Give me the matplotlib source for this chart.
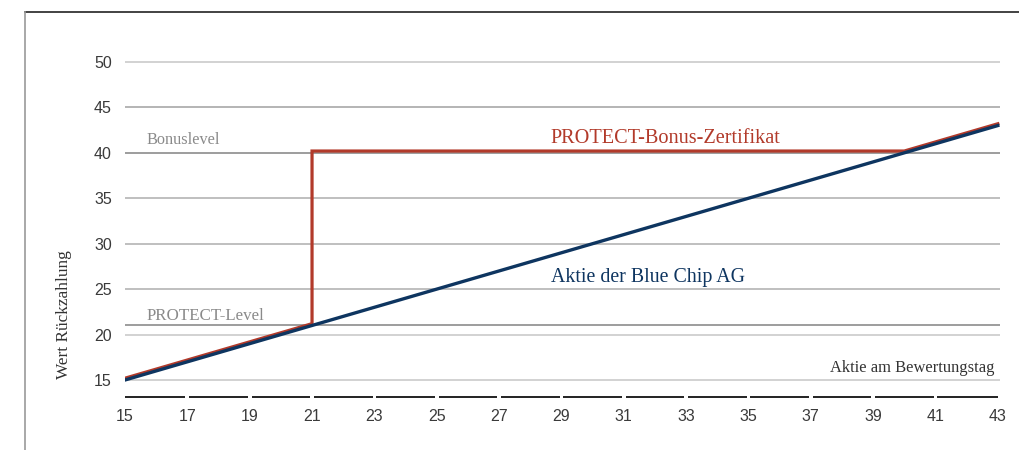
import matplotlib
matplotlib.use("Agg")
import matplotlib.pyplot as plt
from matplotlib.lines import Line2D
from matplotlib import transforms

# Underlying value of the share on the valuation date
aktie = [15, 43]
# Certificate payoff: follows the share up to the protect level, bonus level
# afterwards until the share exceeds it
zert_x = [15, 21, 21, 40, 43]
zert_y = [15, 21, 40, 40, 43]

x_ticks = [15, 17, 19, 21, 23, 25, 27, 29, 31, 33, 35, 37, 39, 41, 43]
y_ticks = [15, 20, 25, 30, 35, 40, 45, 50]
bonus_level = 40
protect_level = 21

RED = "#b23a2a"
NAVY = "#0e3560"
SERIF = ["Liberation Serif", "DejaVu Serif"]
SANS = ["Liberation Sans", "DejaVu Sans"]

fig = plt.figure(figsize=(10.2, 4.5), dpi=100)
# axes: x 15..43.07 over px 125..1000, y 12..51 over px 407..53
ax = fig.add_axes([125 / 1020, 0.0950, 875 / 1020, 0.7875])
ax.set_xlim(15, 43.07)
ax.set_ylim(12, 51)
for s in ax.spines.values():
    s.set_visible(False)

# horizontal grid
grid_colors = {15: "#cbcbcb", 20: "#cbcbcb", 25: "#b4b4b4", 30: "#b4b4b4",
               35: "#b4b4b4", 40: "#8c8c8c", 45: "#a8a8a8", 50: "#cbcbcb"}
for v in y_ticks:
    ax.axhline(v, color=grid_colors[v], lw=1.2, zorder=1)
ax.axhline(protect_level, color="#8c8c8c", lw=1.2, zorder=1)

# segmented baseline with gaps at every tick
gap = 0.06
base_y = 13.13
for i in range(len(x_ticks) - 1):
    a = x_ticks[i] + (gap if i > 0 else 0)
    b = x_ticks[i + 1] - (gap if i + 1 < len(x_ticks) - 1 else 0)
    ax.plot([a, b], [base_y, base_y], color="#222222", lw=1.4,
            solid_capstyle="butt", zorder=2)

# series
red_tr = transforms.offset_copy(ax.transData, fig=fig, x=0, y=1.8, units="dots")
ax.plot(zert_x, zert_y, color=RED, lw=2.3, transform=red_tr, zorder=3,
        solid_joinstyle="miter")
ax.plot(aktie, aktie, color=NAVY, lw=2.4, zorder=4)

# ticks
ax.set_xticks(x_ticks)
ax.set_yticks(y_ticks)
ax.tick_params(length=0, labelsize=11.5, colors="#3a3a3a")
ax.tick_params(axis="x", pad=1)
ax.tick_params(axis="y", pad=9.5)
for lab in ax.get_xticklabels() + ax.get_yticklabels():
    lab.set_fontfamily(SANS)

# annotations
ax.text(15.7, 40.97, "Bonuslevel", family=SERIF, fontsize=11.7,
        color="#8a8a8a", va="baseline", ha="left")
ax.text(15.7, 21.6, "PROTECT-Level", family=SERIF, fontsize=12.2,
        color="#8a8a8a", va="baseline", ha="left")
ax.text(28.66, 41.08, "PROTECT-Bonus-Zertifikat", family=SERIF, fontsize=14.6,
        color=RED, va="baseline", ha="left")
ax.text(28.66, 25.8, "Aktie der Blue Chip AG", family=SERIF, fontsize=14.3,
        color=NAVY, va="baseline", ha="left")
ax.text(42.9, 15.9, "Aktie am Bewertungstag", family=SERIF, fontsize=11.9,
        color="#333333", va="baseline", ha="right")
fig.text(64 / 1020, 1 - 315 / 450, "Wert Rückzahlung", family=SERIF,
         fontsize=12.4, color="#333333", rotation=90, ha="center", va="center")

# outer frame: top rule and left rule
fig.add_artist(Line2D([25 / 1020, 1.0], [1 - 12 / 450, 1 - 12 / 450],
                      color="#222222", lw=1.2, transform=fig.transFigure))
fig.add_artist(Line2D([25 / 1020, 25 / 1020], [0, 1 - 12 / 450],
                      color="#9a9a9a", lw=1.2, transform=fig.transFigure))

fig.savefig("out.png", dpi=100, facecolor="white")
